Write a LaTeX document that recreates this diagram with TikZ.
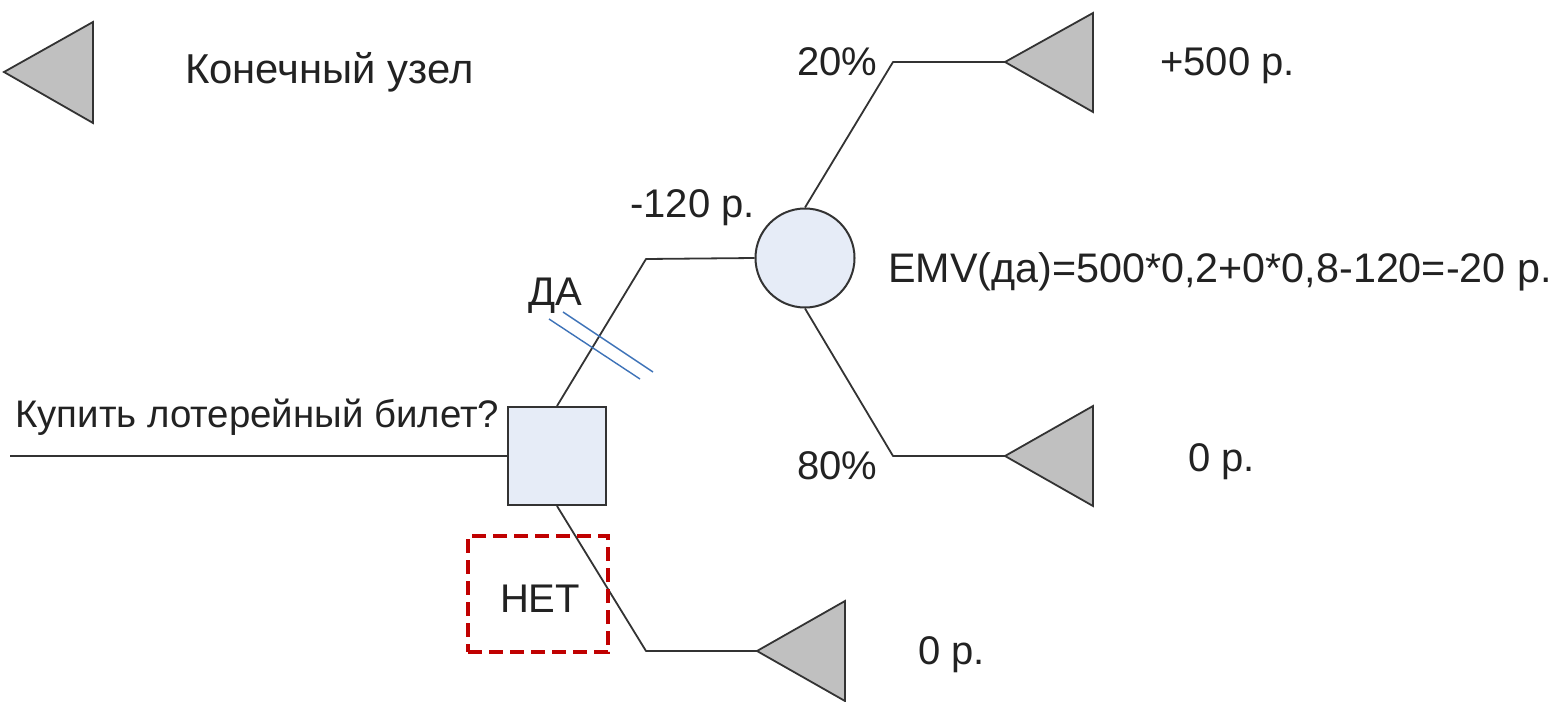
\documentclass[tikz,border=0pt]{standalone}
\usepackage{fontspec}
\setmainfont{Liberation Sans}
\definecolor{lineclr}{HTML}{333333}
\definecolor{nodefill}{HTML}{E6ECF7}
\definecolor{termfill}{HTML}{C0C0C0}
\definecolor{txtclr}{HTML}{222222}
\definecolor{blueclr}{HTML}{3D72B8}
\definecolor{redclr}{HTML}{C00000}
\begin{document}
\begin{tikzpicture}[x=1pt,y=-1pt,
  conn/.style={draw=lineclr,line width=1.8pt,line join=round},
  decbox/.style={rectangle,draw=lineclr,line width=2pt,fill=nodefill,minimum size=98pt,inner sep=0pt},
  chancenode/.style={circle,draw=lineclr,line width=2pt,fill=nodefill,minimum size=99pt,inner sep=0pt},
  termtri/.style={draw=lineclr,line width=1.8pt,fill=termfill,line join=miter},
  lbl/.style={font=\fontsize{40}{48}\selectfont,text=txtclr,inner sep=0pt},
  cutline/.style={draw=blueclr,line width=1.4pt},
  dashbox/.style={draw=redclr,line width=3.5pt,dash pattern=on 14pt off 7pt,minimum width=140pt,minimum height=116pt,inner sep=0pt}
]
\useasboundingbox (0,0) rectangle (1565,701);
\fill[white] (0,0) rectangle (1565,701);

% legend
\coordinate (lt) at (4,72);
\draw[termtri] (lt) -- ++(89,-50) -- ++(0,101) -- cycle;
\node[lbl,font=\fontsize{41.8}{48}\selectfont,anchor=base west] (legtxt) at (185,84) {Конечный узел};

% decision node and input
\node[decbox] (sq) at (557,456) {};
\coordinate (in) at (10,456);
\draw[conn] (in) -- (sq.west);
\node[lbl,font=\fontsize{38.4}{48}\selectfont,anchor=base west] (q) at (15,427) {Купить лотерейный билет?};

% chance node
\node[chancenode] (ch) at (805,258) {};
\coordinate (b1) at (646,259);
\draw[conn] (sq.north) -- (b1) -- (ch.west);
\node[lbl,anchor=base] (da) at (555,305) {ДА};
\node[lbl,anchor=base west] (cost) at (630,217) {-120 р.};

% blue cut lines
\coordinate (c1a) at (549,319); \coordinate (c1b) at (640,379);
\coordinate (c2a) at (563,312); \coordinate (c2b) at (653,372);
\draw[cutline] (c1a) -- (c1b);
\draw[cutline] (c2a) -- (c2b);

% terminals
\coordinate (t1) at (1005,62);
\draw[termtri] (t1) -- ++(88,-49) -- ++(0,99) -- cycle;
\coordinate (t2) at (1005,456);
\draw[termtri] (t2) -- ++(88,-50) -- ++(0,100) -- cycle;
\coordinate (t3) at (757,651);
\draw[termtri] (t3) -- ++(88,-50) -- ++(0,100) -- cycle;

% chance branches
\coordinate (b2) at (893,62);
\draw[conn] (ch.north) -- (b2) -- (t1);
\coordinate (b3) at (893,456);
\draw[conn] (ch.south) -- (b3) -- (t2);

% NO branch
\coordinate (b4) at (646,651);
\draw[conn] (sq.south) -- (b4) -- (t3);

% labels
\node[lbl,anchor=base west] (p20) at (797,75) {20\%};
\node[lbl,anchor=base west] (v500) at (1160,75) {+500 р.};
\node[lbl,font=\fontsize{41.3}{48}\selectfont,anchor=base west] (emv) at (888,282) {EMV(да)=500*0,2+0*0,8-120=-20 р.};
\node[lbl,anchor=base west] (p80) at (797,479) {80\%};
\node[lbl,anchor=base west] (v0a) at (1188,471) {0 р.};
\node[lbl,anchor=base west] (v0b) at (918,664) {0 р.};

% NET box
\node[dashbox] (netbox) at (538,594) {};
\node[lbl,anchor=base] (net) at (540,612) {НЕТ};
\end{tikzpicture}
\end{document}
